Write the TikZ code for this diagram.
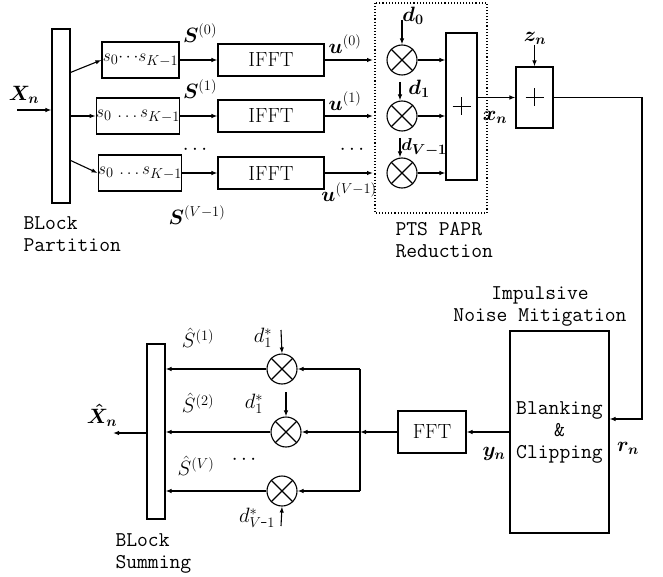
\documentclass[tikz,border=0pt]{standalone}
\usepackage{bm}
\usetikzlibrary{arrows.meta,calc}
\begin{document}
\begin{tikzpicture}[x=1pt,y=-1pt,line width=1.1pt,
  >={Latex[length=6pt,width=4.5pt]},
  blk/.style={draw,inner sep=0pt,font=\fontsize{20.5}{22}\selectfont},
  mult/.style={draw,circle,minimum size=30pt,inner sep=0pt},
  mono/.style={font=\fontsize{21}{22}\selectfont\ttfamily,inner sep=0pt},
  lab/.style={font=\fontsize{21}{22}\selectfont,inner sep=0pt}]
\useasboundingbox (0,0) rectangle (663,577);
% ---------- transmitter ----------
\node[blk,minimum width=18pt,minimum height=174pt] (bp) at (61,116) {};
\node[blk,minimum width=77pt,minimum height=36pt,font=\fontsize{19}{21}\selectfont] (s0) at (140.5,60) {$s_0{\cdots}s_{K-1}$};
\node[blk,minimum width=78pt,minimum height=36pt,font=\fontsize{19}{21}\selectfont] (s1) at (138,116) {$s_0\,\ldots s_{K-1}$};
\node[blk,minimum width=78pt,minimum height=36pt,font=\fontsize{19}{21}\selectfont] (s2) at (140,173) {$s_0\,\ldots s_{K-1}$};
\node[blk,minimum width=106pt,minimum height=32pt] (f0) at (271,60) {IFFT};
\node[blk,minimum width=106pt,minimum height=32pt] (f1) at (271,116) {IFFT};
\node[blk,minimum width=106pt,minimum height=32pt] (f2) at (271,173) {IFFT};
\node[mult] (m0) at (402,60) {};
\node[mult] (m1) at (402,116) {};
\node[mult] (m2) at (402,173) {};
\node[blk,minimum width=31pt,minimum height=147pt] (sum) at (461.5,106.5) {};
\node[blk,minimum width=37pt,minimum height=61pt] (add) at (534.5,97.5) {};
\draw[dotted,line width=1.1pt] (375,3) rectangle (487,213);
\foreach \m in {m0,m1,m2}{\draw (\m.45)--(\m.225) (\m.135)--(\m.315);}
\draw ($(sum.center)+(-9,0)$)--($(sum.center)+(9,0)$) ($(sum.center)+(0,-9)$)--($(sum.center)+(0,9)$);
\draw ($(add.center)+(-9,0)$)--($(add.center)+(9,0)$) ($(add.center)+(0,-9)$)--($(add.center)+(0,9)$);
% connectors
\coordinate (xin) at (17,110);
\draw[->] (xin) -- (bp.west |- xin);
\draw[->] ($(bp.north east)+(0,44)$) -- (s0.west);
\draw[->] (bp.east) -- (s1.west);
\draw[->] ($(bp.north east)+(0,132)$) -- (s2.west);
\draw[->] (s0.east) -- (f0.west);
\draw[->] (s1.east) -- (f1.west);
\draw[->] (s2.east) -- (f2.west);
\coordinate (c0) at (373,60);
\coordinate (c1) at (373,116);
\coordinate (c2) at (373,173);
\draw[->] (f0.east) -- (c0);
\draw[->] (f1.east) -- (c1);
\draw[->] (f2.east) -- (c2);
\draw[->] (m0.east) -- (sum.west |- m0.east);
\draw[->] (m1.east) -- (sum.west |- m1.east);
\draw[->] (m2.east) -- (sum.west |- m2.east);
\coordinate (d0s) at (402,20);
\coordinate (d1s) at (400,82);
\coordinate (d2s) at (400,138);
\draw[->] (d0s) -- (m0.north);
\draw[->] (d1s) -- (d1s |- m1.north);
\draw[->] (d2s) -- (d2s |- m2.north);
\draw[->] (sum.east |- add.west) -- (add.west);
\coordinate (zs) at (534.5,45);
\draw[->] (zs) -- (add.north);
% labels
\node[lab] at (24,95) {$\bm{X_n}$};
\node[lab] at (200,33) {$\bm{S}^{(0)}$};
\node[lab] at (200,89) {$\bm{S}^{(1)}$};
\node[lab] at (197,215) {$\bm{S}^{(V-1)}$};
\node[lab] at (195,150) {$\cdots$};
\node[lab] at (345,44) {$\bm{u}^{(0)}$};
\node[lab] at (345,101) {$\bm{u}^{(1)}$};
\node[lab] at (352,150) {$\cdots$};
\node[lab] at (349,192) {$\bm{u}^{(V-1)}$};
\node[lab] at (413,16) {$\bm{d_0}$};
\node[lab] at (419,89) {$\bm{d_1}$};
\node[lab,font=\fontsize{19}{21}\selectfont] at (424,147) {$\bm{d_{V-1}}$};
\node[lab] at (495,117) {$\bm{x_n}$};
\node[lab] at (535,38) {$\bm{z_n}$};
\node[mono,anchor=north west,align=left] at (23,216) {BLock\\Partition};
\node[mono,anchor=north west,align=left] at (395,222) {PTS PAPR\\Reduction};
% ---------- receiver ----------
\node[mono,align=center,anchor=north] at (540,286) {Impulsive\\Noise Mitigation};
\node[blk,minimum width=99pt,minimum height=202pt,font=\fontsize{21}{22}\selectfont\ttfamily,align=center] (bc) at (559.5,432) {Blanking\\\&\\Clipping};
\node[blk,minimum width=68pt,minimum height=42pt] (fft) at (432,432) {FFT};
\node[blk,minimum width=18pt,minimum height=175pt] (bs) at (156,431.5) {};
\node[mult] (n0) at (282,369) {};
\node[mult] (n1) at (286,432) {};
\node[mult] (n2) at (282,491) {};
\foreach \m in {n0,n1,n2}{\draw (\m.45)--(\m.225) (\m.135)--(\m.315);}
\coordinate (cr) at (642,419);
\draw[->] (add.east) -- (add.east -| cr) -- (cr) -- (bc.east |- cr);
\draw[->] (bc.west) -- (fft.east);
\coordinate (vt) at (360,369);
\coordinate (vm) at (360,432);
\coordinate (vb) at (360,491);
\draw[->] (fft.west) -- (vm);
\draw (vt) -- (vb);
\draw[->] (vt) -- (n0.east);
\draw[->] (vm) -- (n1.east);
\draw[->] (vb) -- (n2.east);
\draw[->] (n0.west) -- (bs.east |- n0.west);
\draw[->] (n1.west) -- (bs.east |- n1.west);
\draw[->] (n2.west) -- (bs.east |- n2.west);
\coordinate (xo) at (113,433);
\draw[->] (bs.west |- xo) -- (xo);
\coordinate (e0) at (281,330);
\coordinate (e1) at (286,392);
\coordinate (e2) at (281,526);
\draw[->] (e0) -- (n0.north);
\draw[->] (e1) -- (n1.north);
\draw[->] (e2) -- (n2.south);
\node[lab] at (102,415) {$\bm{\hat{X}_n}$};
\node[lab] at (198,338) {$\hat{S}^{(1)}$};
\node[lab] at (198,403) {$\hat{S}^{(2)}$};
\node[lab] at (196,466) {$\hat{S}^{(V)}$};
\node[lab] at (244,460) {$\cdots$};
\node[lab] at (263,338) {$d_1^*$};
\node[lab] at (254,404) {$d_1^*$};
\node[lab] at (257,518) {$d_{V\mbox{-}1}^*$};
\node[lab] at (494,454) {$\bm{y_n}$};
\node[lab] at (628,448) {$\bm{r_n}$};
\node[mono,anchor=north west,align=left] at (115,533) {BLock\\Summing};
\end{tikzpicture}
\end{document}
